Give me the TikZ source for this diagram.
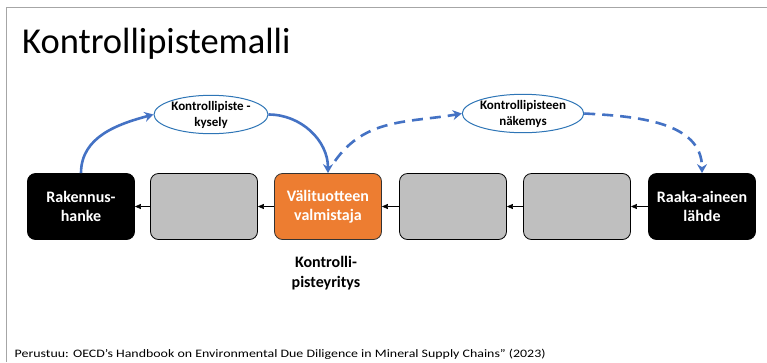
\documentclass[tikz,border=0pt]{standalone}
\usepackage{fontspec}
\setmainfont{Carlito}
\newfontfamily\footfont{Carlito}[FakeStretch=1.22]
\usetikzlibrary{arrows.meta,shapes.geometric}
\definecolor{arrblue}{HTML}{4472C4}
\definecolor{ellblue}{HTML}{2E75B6}
\definecolor{boxgray}{HTML}{BFBFBF}
\definecolor{boxorange}{HTML}{ED7D31}
\definecolor{framegray}{HTML}{A6A6A6}
\tikzset{
  box/.style={rectangle, rounded corners=8pt, minimum width=107pt, minimum height=66pt,
    draw=black, line width=0.8pt, inner sep=2pt, align=center, text=white,
    font=\bfseries\fontsize{16}{19}\selectfont},
  darkbox/.style={box, fill=black},
  graybox/.style={box, fill=boxgray},
  orangebox/.style={box, fill=boxorange, draw=black!80},
  ell/.style={ellipse, draw=ellblue, line width=1pt, fill=white, minimum width=114pt,
    minimum height=38pt, inner sep=0pt, align=center,
    font=\bfseries\fontsize{13}{16}\selectfont},
  bluearrow/.style={draw=arrblue, line width=2.6pt, -{Stealth[length=9pt,width=10pt,inset=3pt]}},
  dasharrow/.style={bluearrow, dash pattern=on 11pt off 7pt},
  smallarrow/.style={draw=black, line width=0.6pt, -{Triangle[length=6pt,width=5pt]}},
}
\begin{document}
\begin{tikzpicture}[x=1pt,y=-1pt]
\useasboundingbox (0,0) rectangle (767,362);
\draw[framegray, line width=1pt] (6,362) -- (6,7) -- (767,7);
\node[anchor=base west, inner sep=0pt, font=\fontsize{36.5}{40}\selectfont] (title) at (22,53) {Kontrollipistemalli};

\node[darkbox] (r) at (81,206.5) {Rakennus-\\hanke};
\node[graybox] (g1) at (204,206.5) {};
\node[orangebox] (v) at (328,206.5) {Välituotteen\\valmistaja};
\node[graybox] (g2) at (453,206.5) {};
\node[graybox] (g3) at (577,206.5) {};
\node[darkbox] (s) at (702,206.5) {Raaka-aineen\\lähde};

\node[ell] (e1) at (211,114.5) {Kontrollipiste -\\kysely};
\node[ell] (e2) at (523,113.5) {Kontrollipisteen\\näkemys};

\draw[smallarrow] (g1.west) -- (r.east);
\draw[smallarrow] (v.west) -- (g1.east);
\draw[smallarrow] (g2.west) -- (v.east);
\draw[smallarrow] (g3.west) -- (g2.east);
\draw[smallarrow] (s.west) -- (g3.east);

\draw[bluearrow] (r.north) to[out=90, in=195] (e1.west);
\draw[bluearrow] (e1.east) to[out=0, in=90] (v.north);
\coordinate (d0) at (335,161);
\draw[dasharrow] (d0) to[out=55, in=190] (e2.west);
\draw[dasharrow] (e2.east) to[out=-3, in=90] (s.north);

\node[align=center, font=\bfseries\fontsize{16}{19.5}\selectfont] (lab) at (326,273) {Kontrolli-\\pisteyritys};
\node[anchor=base west, inner sep=0pt, font=\footfont\fontsize{11.4}{14}\selectfont] (foot) at (14.5,357) {Perustuu: OECD’s Handbook on Environmental Due Diligence in Mineral Supply Chains” (2023)};
\end{tikzpicture}
\end{document}
